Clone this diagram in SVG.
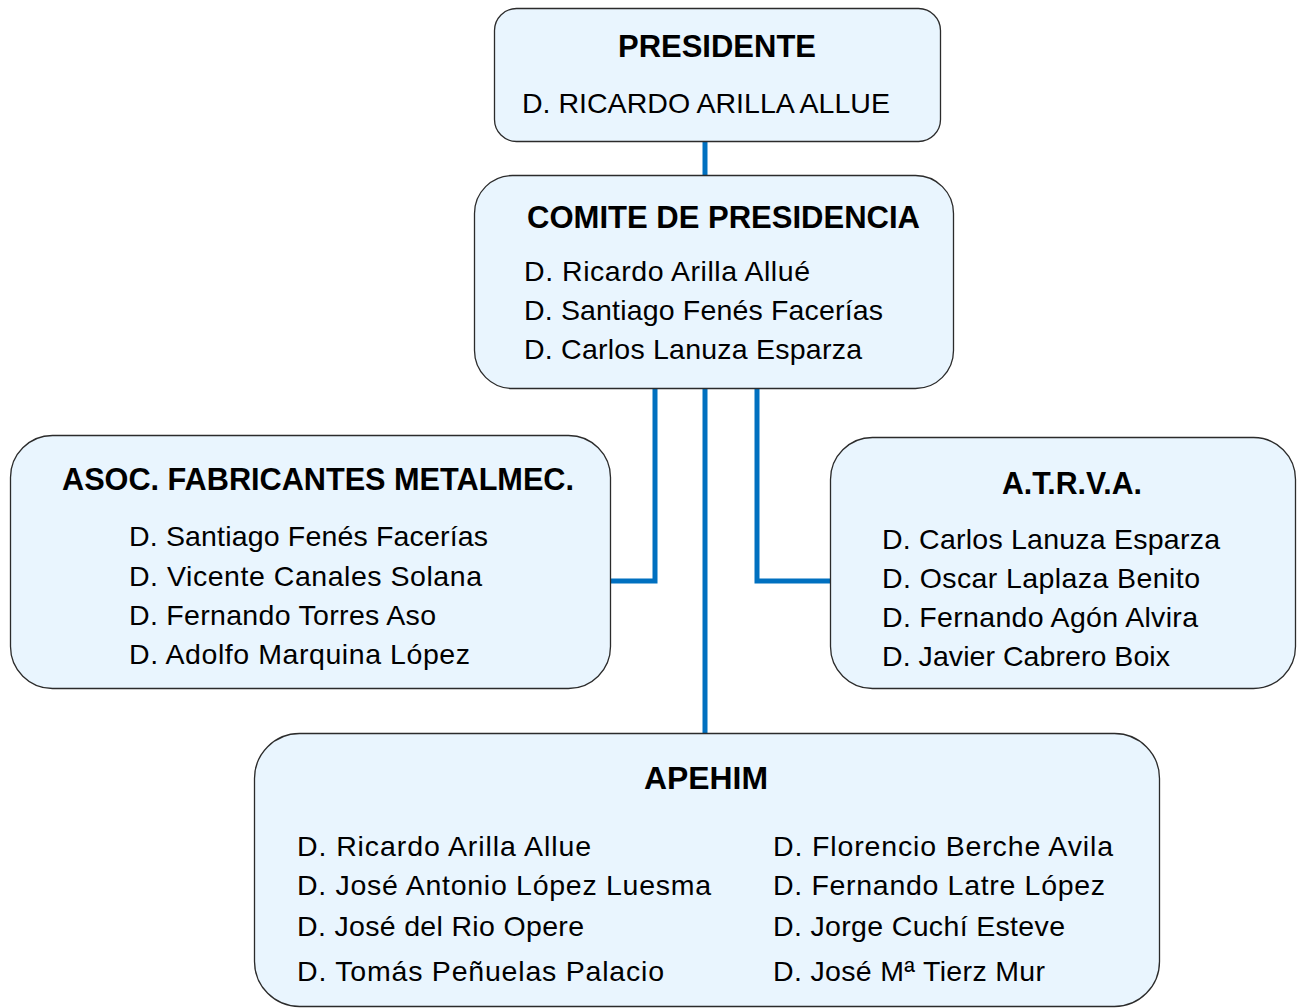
<svg xmlns="http://www.w3.org/2000/svg" width="1297" height="1008" viewBox="0 0 1297 1008">
<style>
.box{fill:#E9F5FE;stroke:#2b2b2b;stroke-width:1.3}
.conn{fill:none;stroke:#0070C0;stroke-width:5;stroke-linejoin:miter}
.t{font-family:"Liberation Sans",Arial,sans-serif;font-weight:bold;font-size:31px;fill:#000;text-anchor:middle}
.n{font-family:"Liberation Sans",Arial,sans-serif;font-size:28.5px;fill:#000}
</style>
<rect width="1297" height="1008" fill="#fff"/>
<g id="connectors">
<line class="conn" x1="705" y1="141" x2="705" y2="176"/>
<polyline class="conn" points="655,388 655,581 610,581"/>
<line class="conn" x1="705" y1="388" x2="705" y2="734"/>
<polyline class="conn" points="757,388 757,581 830,581"/>
</g>
<g id="presidente">
<rect class="box" x="494.5" y="8.5" width="446" height="133" rx="22"/>
<text class="t" x="717" y="57" textLength="198" lengthAdjust="spacingAndGlyphs">PRESIDENTE</text>
<text class="n" x="522" y="113" font-size="28" textLength="368" lengthAdjust="spacingAndGlyphs">D. RICARDO ARILLA ALLUE</text>
</g>
<g id="comite">
<rect class="box" x="474.5" y="175.5" width="479" height="213" rx="38"/>
<text class="t" x="723.5" y="228" textLength="393" lengthAdjust="spacingAndGlyphs">COMITE DE PRESIDENCIA</text>
<text class="n" x="524" y="281" textLength="286" lengthAdjust="spacing">D. Ricardo Arilla Allué</text>
<text class="n" x="524" y="320" textLength="359" lengthAdjust="spacing">D. Santiago Fenés Facerías</text>
<text class="n" x="524" y="359" textLength="338" lengthAdjust="spacing">D. Carlos Lanuza Esparza</text>
</g>
<g id="asoc">
<rect class="box" x="10.5" y="435.5" width="600" height="253" rx="42"/>
<text class="t" x="318" y="490" textLength="512" lengthAdjust="spacingAndGlyphs">ASOC. FABRICANTES METALMEC.</text>
<text class="n" x="129" y="546" textLength="359" lengthAdjust="spacing">D. Santiago Fenés Facerías</text>
<text class="n" x="129" y="586" textLength="353" lengthAdjust="spacing">D. Vicente Canales Solana</text>
<text class="n" x="129" y="625" textLength="307" lengthAdjust="spacing">D. Fernando Torres Aso</text>
<text class="n" x="129" y="664" textLength="341" lengthAdjust="spacing">D. Adolfo Marquina López</text>
</g>
<g id="atrva">
<rect class="box" x="830.5" y="437.5" width="465" height="251" rx="42"/>
<text class="t" x="1072" y="494" textLength="140" lengthAdjust="spacingAndGlyphs">A.T.R.V.A.</text>
<text class="n" x="882" y="549" textLength="338" lengthAdjust="spacing">D. Carlos Lanuza Esparza</text>
<text class="n" x="882" y="588" textLength="318" lengthAdjust="spacing">D. Oscar Laplaza Benito</text>
<text class="n" x="882" y="627" textLength="316" lengthAdjust="spacing">D. Fernando Agón Alvira</text>
<text class="n" x="882" y="666" textLength="288" lengthAdjust="spacing">D. Javier Cabrero Boix</text>
</g>
<g id="apehim">
<rect class="box" x="254.5" y="733.5" width="905" height="273" rx="45"/>
<text class="t" x="706" y="789" textLength="124" lengthAdjust="spacingAndGlyphs">APEHIM</text>
<text class="n" x="297" y="856" textLength="294" lengthAdjust="spacing">D. Ricardo Arilla Allue</text>
<text class="n" x="297" y="895" textLength="414" lengthAdjust="spacing">D. José Antonio López Luesma</text>
<text class="n" x="297" y="936" textLength="287" lengthAdjust="spacing">D. José del Rio Opere</text>
<text class="n" x="297" y="981" textLength="367" lengthAdjust="spacing">D. Tomás Peñuelas Palacio</text>
<text class="n" x="773" y="856" textLength="340" lengthAdjust="spacing">D. Florencio Berche Avila</text>
<text class="n" x="773" y="895" textLength="332" lengthAdjust="spacing">D. Fernando Latre López</text>
<text class="n" x="773" y="936" textLength="292" lengthAdjust="spacing">D. Jorge Cuchí Esteve</text>
<text class="n" x="773" y="981" textLength="272" lengthAdjust="spacing">D. José Mª Tierz Mur</text>
</g>
</svg>
